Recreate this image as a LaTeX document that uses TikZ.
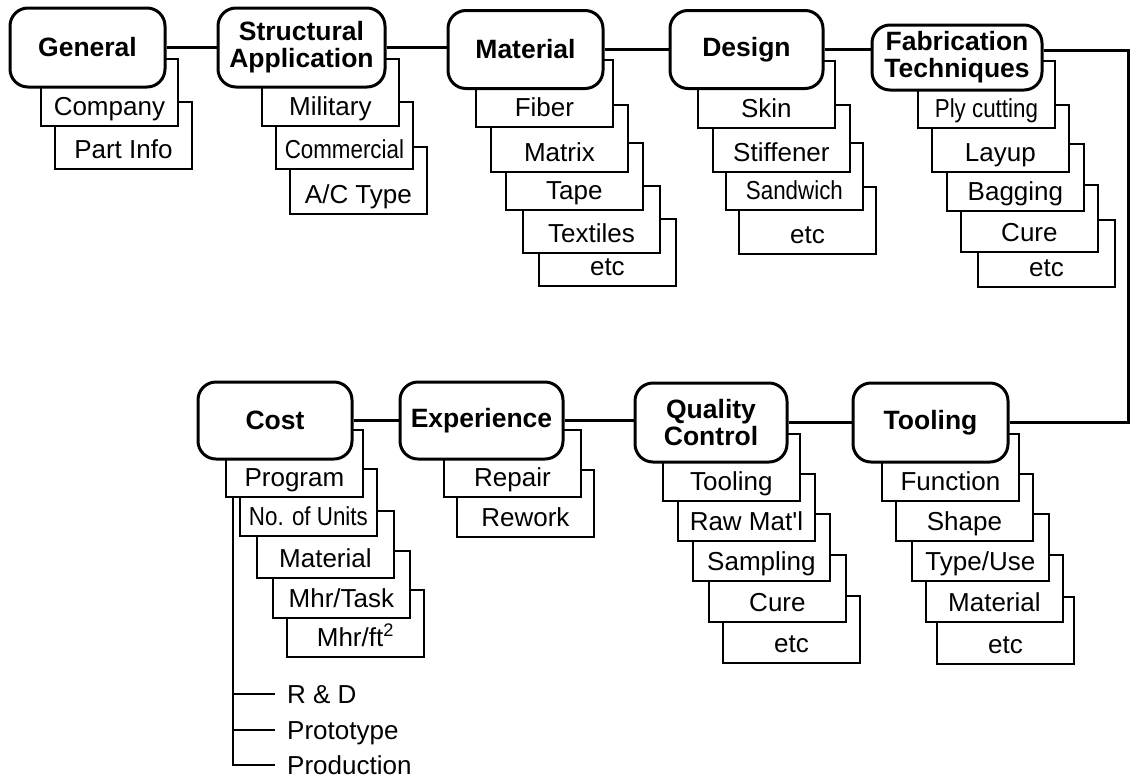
\documentclass[tikz,border=0pt]{standalone}
\usepackage{fontspec}
\usepackage{graphicx}
\newfontfamily\lsans{Liberation Sans}
\newcommand\subb[4]{%
  \node[subbox] (#1) at (#2,#3) {};
  \node[subtext] (#1t) at ([yshift=12pt]#1.south) {#4};%
}
\newcommand\cond[1]{\scalebox{0.86}[1]{#1}}
\begin{document}
\begin{tikzpicture}[x=1pt,y=-1pt,
  mainbox/.style={draw, line width=3pt, rounded corners=18pt, fill=white, align=center, inner sep=0pt,
    font=\lsans\bfseries\fontsize{26.5}{27}\selectfont},
  subbox/.style={draw, line width=1.8pt, fill=white, minimum width=137pt, minimum height=67pt, inner sep=0pt, anchor=south west},
  subtext/.style={font=\lsans\fontsize{26}{27}\selectfont, anchor=base, inner sep=0pt},
  link/.style={line width=3pt},
  treeline/.style={line width=1.8pt},
  treetext/.style={font=\lsans\fontsize{26}{27}\selectfont, anchor=west, text height=19pt, text depth=0pt, inner sep=0pt}
]
\useasboundingbox[fill=white] (0,0) rectangle (1132,780);

% ---- Cost tree (behind the boxes)
\coordinate (tr) at (233,458);
\node[treetext] (rd) at (287,694) {R \& D};
\node[treetext] (proto) at (287,730) {Prototype};
\node[treetext] (prod) at (287,765) {Production};
\draw[treeline] (tr) |- ([xshift=-12pt]rd.west);
\draw[treeline] (tr) |- ([xshift=-12pt]proto.west);
\draw[treeline] (tr) |- ([xshift=-12pt]prod.west);

% ---- General
\subb{partinfo}{54}{170}{Part Info}
\subb{company}{40}{127}{Company}
% ---- Structural application
\subb{actype}{289}{215}{A/C Type}
\subb{commercial}{275}{170}{\cond{Commercial}}
\subb{military}{261}{127}{Military}
% ---- Material
\subb{matetc}{538}{287}{etc}
\subb{textiles}{522}{254}{Textiles}
\subb{tape}{505}{211}{Tape}
\subb{matrix}{490}{173}{Matrix}
\subb{fiber}{475}{128}{Fiber}
% ---- Design
\subb{desetc}{738}{255}{etc}
\subb{sandwich}{725}{211}{\cond{Sandwich}}
\subb{stiffener}{712}{173}{Stiffener}
\subb{skin}{697}{129}{Skin}
% ---- Fabrication
\subb{fabetc}{977}{288}{etc}
\subb{fabcure}{960}{253}{Cure}
\subb{bagging}{946}{212}{Bagging}
\subb{layup}{931}{173}{Layup}
\subb{plycut}{917}{129}{\cond{Ply cutting}}
% ---- Cost
\subb{mhrft}{286}{658}{Mhr/ft\textsuperscript{2}}
\subb{mhrtask}{272}{619}{Mhr/Task}
\subb{costmat}{256}{579}{Material}
\subb{units}{239}{537}{\cond{No. of Units}}
\subb{program}{225}{498}{Program}
% ---- Experience
\subb{rework}{456}{538}{Rework}
\subb{repair}{443}{498}{Repair}
% ---- Quality control
\subb{qcetc}{722}{664}{etc}
\subb{qccure}{708}{623}{Cure}
\subb{sampling}{692}{582}{Sampling}
\subb{rawmat}{677}{542}{Raw Mat'l}
\subb{qctool}{662}{502}{Tooling}
% ---- Tooling
\subb{tooletc}{936}{665}{etc}
\subb{toolmat}{925}{623}{Material}
\subb{typeuse}{911}{582}{Type/Use}
\subb{shape}{895}{542}{Shape}
\subb{function}{881}{502}{Function}

% ---- main boxes
\node[mainbox, minimum width=155pt, minimum height=79pt] (gen) at (87.5,47.5) {General};
\node[mainbox, minimum width=167pt, minimum height=79pt] (str) at (301.5,47.5) {Structural\\Application};
\node[mainbox, minimum width=155pt, minimum height=78pt] (mat) at (525.5,49.5) {Material};
\node[mainbox, minimum width=153pt, minimum height=78pt] (des) at (746.5,49.5) {Design};
\node[mainbox, minimum width=170pt, minimum height=65pt] (fab) at (957,57.5) {Fabrication\\Techniques};
\node[mainbox, minimum width=154pt, minimum height=77pt] (cost) at (275,420.5) {Cost};
\node[mainbox, minimum width=163pt, minimum height=77pt] (exp) at (481.5,420.5) {Experience};
\node[mainbox, minimum width=152pt, minimum height=79pt] (qc) at (711,422.5) {Quality\\Control};
\node[mainbox, minimum width=155pt, minimum height=79pt] (tool) at (930.5,422.5) {Tooling};

% ---- connectors
\coordinate (rc) at (1128,50);
\draw[link] (gen.east) -- (str.west);
\draw[link] (str.east) -- (str.east -| mat.west);
\draw[link] (mat.east) -- (des.west);
\draw[link] (des.east) -- (des.east -| fab.west);
\draw[link] (fab.east |- rc) -- (rc) |- (tool.east);
\draw[link] (qc.east) -- (tool.west);
\draw[link] (exp.east) -- (exp.east -| qc.west);
\draw[link] (cost.east) -- (exp.west);
\end{tikzpicture}
\end{document}
